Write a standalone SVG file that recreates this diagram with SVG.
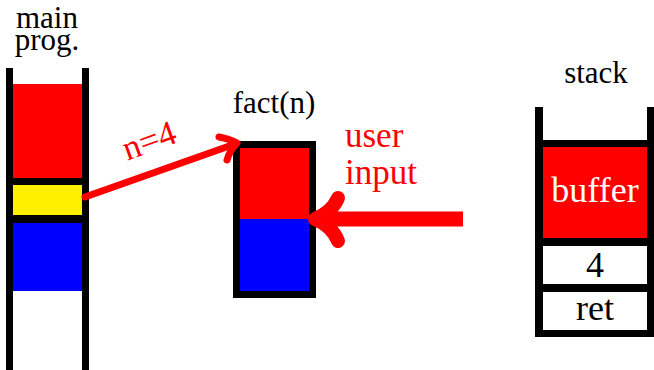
<svg xmlns="http://www.w3.org/2000/svg" width="654" height="370" viewBox="0 0 654 370">
<style>
text{font-family:"Liberation Serif","Times New Roman",serif}
.lbl{font-size:31px;fill:#000;text-anchor:middle}
.red{font-size:35px;fill:#ff0000}
.cell{font-size:36px;text-anchor:middle}
.wall{fill:#000}
.arrow{stroke:#ff0000;fill:none;stroke-linecap:round;stroke-linejoin:round}
</style>
<rect width="654" height="370" fill="#fff"/>
<g id="main-prog">
  <text class="lbl" x="47" y="28" font-size="26">main</text>
  <text class="lbl" x="47" y="50" font-size="26">prog.</text>
  <rect x="13" y="84" width="69" height="94" fill="#ff0000"/>
  <rect x="13" y="185" width="69" height="30" fill="#fff000"/>
  <rect x="13" y="223" width="69" height="68" fill="#0000ff"/>
  <rect class="wall" x="6" y="68" width="7" height="302"/>
  <rect class="wall" x="82" y="68" width="7" height="302"/>
  <rect class="wall" x="6" y="178" width="83" height="7"/>
  <rect class="wall" x="6" y="215" width="83" height="8"/>
</g>
<g id="fact">
  <text class="lbl" x="274" y="113" font-size="32">fact(n)</text>
  <rect x="237" y="145" width="75" height="74" fill="#ff0000"/>
  <rect x="237" y="219" width="75" height="75" fill="#0000ff"/>
  <rect x="236.5" y="144.5" width="76" height="150" fill="none" stroke="#000" stroke-width="7"/>
</g>
<g id="stack">
  <text class="lbl" x="596" y="83" font-size="33">stack</text>
  <rect x="543" y="147" width="105" height="91" fill="#ff0000"/>
  <rect class="wall" x="535" y="107" width="8" height="230"/>
  <rect class="wall" x="647" y="107" width="7" height="230"/>
  <rect class="wall" x="535" y="140" width="119" height="7"/>
  <rect class="wall" x="535" y="238" width="119" height="8"/>
  <rect class="wall" x="535" y="284" width="119" height="8"/>
  <rect class="wall" x="535" y="330" width="119" height="7"/>
  <text class="cell" x="595" y="202" fill="#fff" font-size="37">buffer</text>
  <text class="cell" x="595" y="277" fill="#000">4</text>
  <text class="cell" x="595" y="320" fill="#000">ret</text>
</g>
<g id="connectors">
  <path class="arrow" d="M85 197 L235 144" stroke-width="7" stroke-linecap="butt"/>
  <path class="arrow" d="M219 137 Q230 139 237 143 Q230 150 227 160" stroke-width="7"/>
  <text class="red" x="150" y="152" font-size="31" text-anchor="middle" transform="rotate(-20 150 143)">n=4</text>
  <path d="M463 219 L318 219" stroke="#ff0000" stroke-width="15" fill="none"/>
  <path class="arrow" d="M338 198 Q332 212 315 219 Q332 226 338 241" stroke-width="14"/>
  <text class="red" x="345" y="147">user</text>
  <text class="red" x="345" y="184">input</text>
</g>
</svg>
